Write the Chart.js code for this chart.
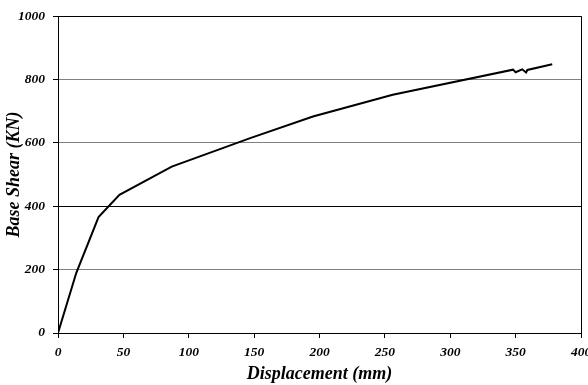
<!DOCTYPE html>
<html>
<head>
<meta charset="utf-8">
<script src="https://cdn.jsdelivr.net/npm/chart.js@4/dist/chart.umd.min.js"></script>
<style>
  html, body { margin: 0; padding: 0; background: #ffffff; }
  #wrap { width: 588px; height: 385px; position: relative; }
</style>
</head>
<body>
<div id="wrap"><canvas id="c" width="588" height="385"></canvas></div>
<script>
// Pushover capacity curve: roof displacement vs. base shear
const displacementMm = [0, 14, 31, 47, 87, 147, 195, 256, 348, 350, 355, 358, 359, 378];
const baseShearKN    = [0, 190, 366, 436, 525, 615, 683, 752, 831, 823, 832, 822, 830, 848];
const xTickValues = [0, 50, 100, 150, 200, 250, 300, 350, 400];
const yTickValues = [0, 200, 400, 600, 800, 1000];

const points = displacementMm.map((d, i) => ({ x: d, y: baseShearKN[i] }));

const serif = 'Liberation Serif, "Times New Roman", serif';
const tickFont = { family: serif, size: 13.5, style: 'italic', weight: 'bold' };
const titleFont = { family: serif, size: 18, style: 'italic', weight: 'bold' };

new Chart(document.getElementById('c'), {
  type: 'scatter',
  data: {
    datasets: [{
      data: points,
      showLine: true,
      borderColor: '#000000',
      borderWidth: 2,
      pointRadius: 0,
      tension: 0,
      fill: false
    }]
  },
  options: {
    responsive: false,
    animation: false,
    events: [],
    layout: { padding: { top: 13, right: 7, left: 0, bottom: 0 } },
    plugins: { legend: { display: false }, tooltip: { enabled: false } },
    scales: {
      x: {
        type: 'linear',
        min: 0, max: 400,
        afterBuildTicks: s => { s.ticks = xTickValues.map(v => ({ value: v })); },
        afterFit: s => { s.height = 52; s.paddingLeft = 0; s.paddingRight = 0; },
        ticks: { font: tickFont, color: '#000', padding: 6, maxRotation: 0, autoSkip: false,
                 callback: v => String(v) },
        grid: {
          display: true,
          drawOnChartArea: true,
          color: c => (c.tick && c.tick.value === 400 ? '#000000' : 'rgba(0,0,0,0)'),
          tickColor: '#000',
          tickLength: 5,
          lineWidth: 1
        },
        border: { display: true, color: '#000', width: 1 },
        title: { display: true, text: 'Displacement (mm)', font: titleFont, color: '#000', padding: { top: 0, bottom: 0 } }
      },
      y: {
        type: 'linear',
        min: 0, max: 1000,
        afterBuildTicks: s => { s.ticks = yTickValues.map(v => ({ value: v })); },
        afterFit: s => { s.width = 58; },
        ticks: { font: tickFont, color: '#000', padding: 8, callback: v => String(v) },
        grid: {
          display: true,
          drawOnChartArea: true,
          color: c => {
            const v = c.tick ? c.tick.value : null;
            return (v === 1000 || v === 400 || v === 0) ? '#000000' : '#808080';
          },
          tickColor: '#000',
          tickLength: 5,
          lineWidth: 1
        },
        border: { display: true, color: '#000', width: 1 },
        title: { display: true, text: 'Base Shear (KN)', font: titleFont, color: '#000', padding: { top: 4, bottom: 0 } }
      }
    }
  }
});
</script>
</body>
</html>
